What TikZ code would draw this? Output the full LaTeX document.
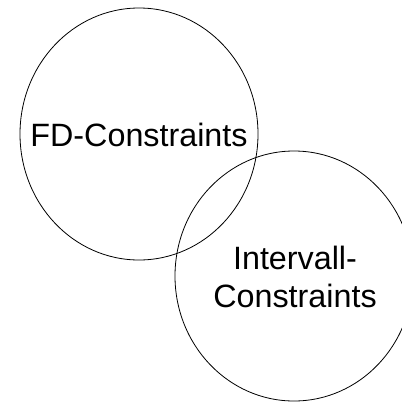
\documentclass[tikz,border=0pt]{standalone}
\usepackage{fontspec}
\setmainfont{Liberation Sans}
\begin{document}
\begin{tikzpicture}[x=1pt,y=-1pt,
  set/.style={draw=black,line width=0.8pt},
  lbl/.style={font=\fontsize{32.3}{38}\selectfont,inner sep=0pt,anchor=base}]
\useasboundingbox (0,0) rectangle (402,402);
\clip (0,0) rectangle (402,402);
\fill[white] (0,0) rectangle (402,402);
\draw[set] (139,134) ellipse [x radius=119, y radius=126];
\draw[set] (294,276) ellipse [x radius=119, y radius=125];
\node[lbl] (fd) at (139,146) {FD-Constraints};
\node[lbl] (iv1) at (295,269) {Intervall-};
\node[lbl] (iv2) at (295,307) {Constraints};
\end{tikzpicture}
\end{document}
